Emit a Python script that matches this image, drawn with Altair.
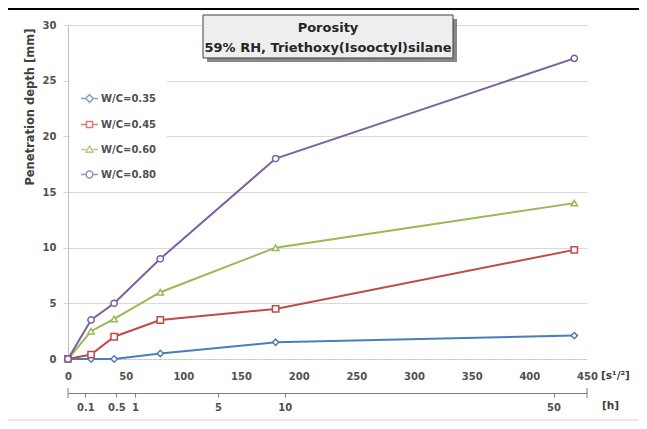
import altair as alt
import pandas as pd

# ---- data ----
series = ["W/C=0.35", "W/C=0.45", "W/C=0.60", "W/C=0.80"]
sqrt_s = [0, 20, 40, 80, 180, 439]
depth_035 = [0, 0, 0, 0.5, 1.5, 2.1]
depth_045 = [0, 0.4, 2.0, 3.5, 4.5, 9.8]
depth_060 = [0, 2.5, 3.6, 6.0, 10.0, 14.0]
depth_080 = [0, 3.5, 5.0, 9.0, 18.0, 27.0]

x_ticks = [0, 50, 100, 150, 200, 250, 300, 350, 400, 450]
y_ticks = [0, 5, 10, 15, 20, 25, 30]
hour_labels = ["0.1", "0.5", "1", "5", "10", "50"]
hour_pos = [15, 42, 58, 130, 188, 421]
hour_axis_ends = [0, 450]

title_lines = ["Porosity", "59% RH, Triethoxy(Isooctyl)silane"]

colors = ["#4a7ebb", "#be4b48", "#98b954", "#7d60a0"]
shapes = ["diamond", "square", "triangle-up", "circle"]
legend_shapes = [
    "M-1,0H-0.45M0.45,0H1M0,-0.45L0.45,0L0,0.45L-0.45,0Z",
    "M-1,0H-0.36M0.36,0H1M-0.36,-0.36H0.36V0.36H-0.36Z",
    "M-1,0H-0.4M0.4,0H1M0,-0.42L0.42,0.32H-0.42Z",
    "M-1,0H-0.4M0.4,0H1M0.4,0A0.4,0.4,0,1,1,-0.4,0A0.4,0.4,0,1,1,0.4,0Z",
]

rows = []
for name, vals in zip(series, [depth_035, depth_045, depth_060, depth_080]):
    for xv, yv in zip(sqrt_s, vals):
        rows.append({"series": name, "x": xv, "y": yv})
df = pd.DataFrame(rows)

W, H = 519, 334
FONT = "DejaVu Sans"
LABEL_COLOR = "#505050"

xs = alt.Scale(domain=[0, 450], nice=False)
ys = alt.Scale(domain=[0, 30], nice=False)
cs = alt.Scale(domain=series, range=colors)

x_enc = alt.X(
    "x:Q", scale=xs,
    axis=alt.Axis(values=x_ticks, grid=False, ticks=False, tickSize=0,
                  domainColor="#c8c8c8", domainDash=[3, 2], labelPadding=12,
                  title=None, labelFlush=False),
)
y_enc = alt.Y(
    "y:Q", scale=ys,
    axis=alt.Axis(values=y_ticks, grid=True, gridColor="#d9d9d9", tickColor="#d9d9d9",
                  tickSize=5, domainColor="#bfbfbf", labelPadding=7,
                  title="Penetration depth [mm]", titleAngle=-90, titleX=-38, titleY=3,
                  titleAlign="right", titleBaseline="middle", titleFontSize=11.5,
                  titleFontWeight="bold", titleColor="#404040", titleFont=FONT),
)

base = alt.Chart(df)
lines = base.mark_line(strokeWidth=2).encode(
    x=x_enc, y=y_enc,
    color=alt.Color("series:N", scale=cs, legend=None),
)
points = base.mark_point(filled=False, fill="white", size=40, strokeWidth=1.5, opacity=1).encode(
    x=x_enc, y=y_enc,
    color=alt.Color("series:N", scale=cs, legend=None),
    shape=alt.Shape("series:N", scale=alt.Scale(domain=series, range=shapes), legend=None),
)

leg = alt.Legend(orient="none", legendX=2, legendY=54, fillColor="white", padding=10,
                 labelFont=FONT, labelFontWeight="bold", labelFontSize=10, labelColor=LABEL_COLOR,
                 symbolSize=289, symbolStrokeWidth=1.5, symbolFillColor="white",
                 rowPadding=9, labelOffset=2, title=None)

legend_layer = alt.Chart(pd.DataFrame({"series": series})).transform_filter("false").mark_point(
    filled=False, fill="white", strokeWidth=1.5
).encode(
    stroke=alt.Stroke("series:N", scale=cs, legend=leg, title=None),
    shape=alt.Shape("series:N", scale=alt.Scale(domain=series, range=legend_shapes), legend=leg, title=None),
)

one = alt.Data(values=[{}])
shadow = alt.Chart(one).mark_rect(fill="#555555", opacity=0.7).encode(
    x=alt.value(139), x2=alt.value(389), y=alt.value(-6), y2=alt.value(37))
box = alt.Chart(one).mark_rect(fill="#eeeeee", stroke="#404040", strokeWidth=1).encode(
    x=alt.value(135), x2=alt.value(385), y=alt.value(-10), y2=alt.value(33))
t1 = alt.Chart(one).mark_text(font=FONT, fontWeight="bold", fontSize=13, color="#262626").encode(
    x=alt.value(260), y=alt.value(3), text=alt.value(title_lines[0]))
t2 = alt.Chart(one).mark_text(font=FONT, fontWeight="bold", fontSize=13, color="#262626").encode(
    x=alt.value(260), y=alt.value(23), text=alt.value(title_lines[1]))
s_lab = alt.Chart(one).mark_text(font=FONT, fontWeight="bold", fontSize=10.5, color="#404040",
                                 align="left").encode(
    x=alt.value(533), y=alt.value(351), text=alt.value("[s¹/²]"))
h_lab = alt.Chart(one).mark_text(font=FONT, fontWeight="bold", fontSize=10.5, color="#404040",
                                 align="left").encode(
    x=alt.value(534), y=alt.value(381), text=alt.value("[h]"))
top_border = alt.Chart(one).mark_rule(color="black", strokeWidth=2).encode(
    x=alt.value(-60), x2=alt.value(571), y=alt.value(-16))
bottom_border = alt.Chart(one).mark_rule(color="#d0d0d0", strokeWidth=1).encode(
    x=alt.value(-60), x2=alt.value(571), y=alt.value(395))

inner = alt.layer(lines, points, legend_layer, shadow, box, t1, t2, s_lab, h_lab,
                  top_border, bottom_border).resolve_scale(
    shape="independent", stroke="independent")

label_expr = " : ".join(
    f"datum.value == {p} ? '{l}'" for p, l in zip(hour_pos, hour_labels)
) + " : ''"

hour_layer = alt.Chart(pd.DataFrame({"x": hour_axis_ends})).mark_rule(color="#7f7f7f", strokeWidth=1).encode(
    x=alt.X("x:Q", scale=alt.Scale(domain=[0, 450], nice=False),
            axis=alt.Axis(orient="bottom", offset=34, values=hour_pos, labelExpr=label_expr,
                          tickSize=4, tickColor="#7f7f7f", domainColor="#7f7f7f", grid=False,
                          title=None, labelPadding=5, labelFlush=False)),
    y=alt.value(H + 29), y2=alt.value(H + 39),
)

chart = alt.layer(inner, hour_layer).resolve_scale(x="independent").properties(
    width=W, height=H, autosize="none",
    padding={"left": 60, "top": 17, "right": 52, "bottom": 62},
).configure_view(stroke=None).configure_axis(
    labelFont=FONT, labelFontWeight="bold", labelFontSize=10, labelColor=LABEL_COLOR,
)

chart.save("out.html", embed_options={"renderer": "svg", "actions": False})
